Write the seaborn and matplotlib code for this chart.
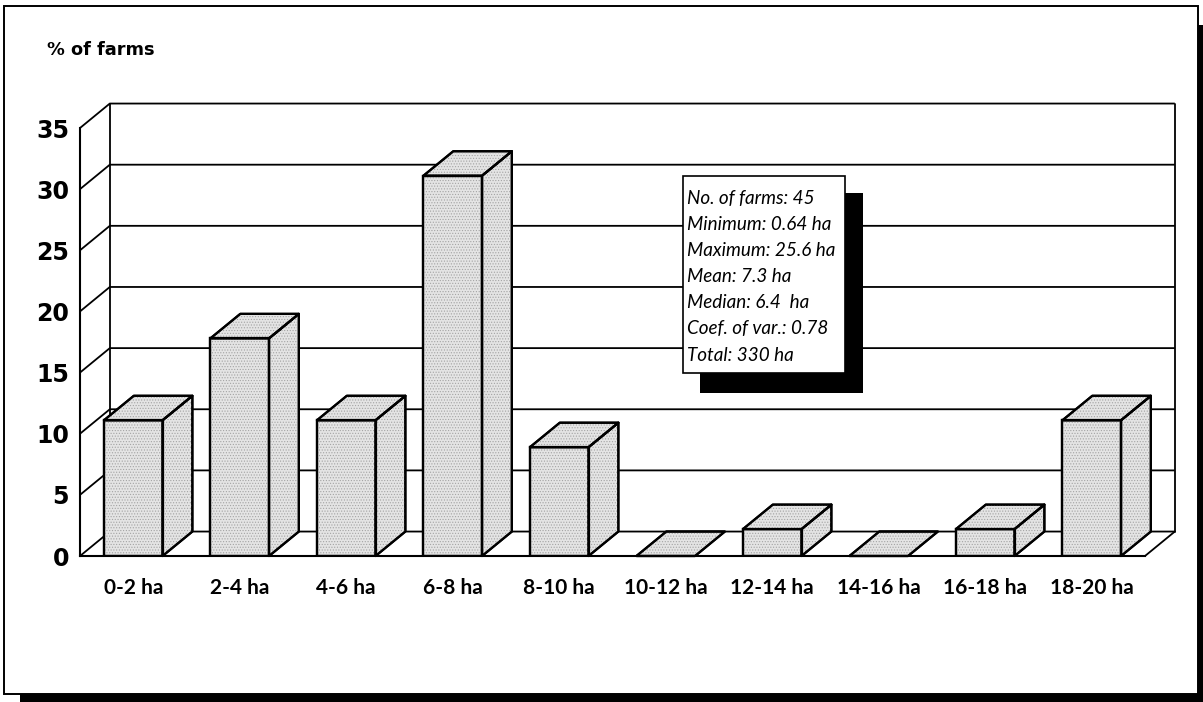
import numpy as np
import pandas as pd
import matplotlib
matplotlib.use("Agg")
import matplotlib.pyplot as plt
import seaborn as sns
from matplotlib.patches import Polygon, Rectangle

# ---- data -------------------------------------------------------------
size_classes = ["0-2 ha", "2-4 ha", "4-6 ha", "6-8 ha", "8-10 ha",
                "10-12 ha", "12-14 ha", "14-16 ha", "16-18 ha", "18-20 ha"]
pct_farms = [11.1, 17.8, 11.1, 31.1, 8.9, 0.0, 2.2, 0.0, 2.2, 11.1]
y_ticks = [0, 5, 10, 15, 20, 25, 30, 35]
summary_lines = ["No. of farms: 45", "Minimum: 0.64 ha", "Maximum: 25.6 ha",
                 "Mean: 7.3 ha", "Median: 6.4  ha", "Coef. of var.: 0.78",
                 "Total: 330 ha"]

# ---- style ------------------------------------------------------------
sns.set_theme(style="white")
plt.rcParams["font.family"] = ["DejaVu Sans"]
plt.rcParams["text.color"] = "black"
plt.rcParams["hatch.linewidth"] = 0.5

W, H = 1203, 702
FACE = "#e4e4e4"
DOTS = "#a4a4a4"
EDGE_LW = 1.6
GRID_LW = 1.3
DX, DY = 0.28, 2.0          # depth offset of the 3-D box (category units, % units)

fig = plt.figure(figsize=(W / 100, H / 100), dpi=100)


def px_rect(x0, y0, x1, y1, **kw):
    """Rectangle given in pixel coordinates measured from the top-left corner."""
    return Rectangle((x0 / W, 1 - y1 / H), (x1 - x0) / W, (y1 - y0) / H,
                     transform=fig.transFigure, **kw)


# outer frame with drop shadow
fig.patches.append(px_rect(20, 25, W, H, facecolor="black", edgecolor="none", zorder=-3))
fig.patches.append(px_rect(4, 6, 1198, 694, facecolor="white", edgecolor="black",
                           linewidth=1.4, zorder=-2))

ax = fig.add_axes([80 / W, (H - 556) / H, (1145 - 80) / W, (556 - 128) / H])
ax.set_zorder(1)
ax.patch.set_visible(False)

x_lo, x_hi = -0.5, len(size_classes) - 0.5
y_top = y_ticks[-1]

# back wall, side wall and floor lines
for v in y_ticks:
    ax.plot([x_lo, x_lo + DX, x_hi + DX], [v, v + DY, v + DY], color="black",
            lw=GRID_LW, clip_on=False, zorder=0.5, solid_capstyle="butt")
ax.plot([x_lo + DX, x_lo + DX], [DY, y_top + DY], color="black", lw=GRID_LW,
        clip_on=False, zorder=0.5)
ax.plot([x_hi + DX, x_hi + DX], [DY, y_top + DY], color="black", lw=GRID_LW,
        clip_on=False, zorder=0.5)
ax.plot([x_hi, x_hi + DX], [0, DY], color="black", lw=GRID_LW,
        clip_on=False, zorder=0.5)

# front faces of the columns
df = pd.DataFrame({"size_class": size_classes, "pct": pct_farms})
sns.barplot(data=df, x="size_class", y="pct", width=0.55, color=FACE,
            saturation=1, edgecolor="black", linewidth=EDGE_LW, ax=ax, zorder=2)


def stipple(poly_xy):
    ax.add_patch(Polygon(poly_xy, closed=True, facecolor="none", edgecolor=DOTS,
                         linewidth=0, hatch="......", clip_on=False, zorder=2.05))


def face(poly_xy):
    ax.add_patch(Polygon(poly_xy, closed=True, facecolor=FACE, edgecolor="black",
                         linewidth=EDGE_LW, joinstyle="round", clip_on=False, zorder=2))
    stipple(poly_xy)
    ax.add_patch(Polygon(poly_xy, closed=True, fill=False, edgecolor="black",
                         linewidth=EDGE_LW, joinstyle="round", clip_on=False, zorder=2.1))


# side and top faces built from each bar's own geometry
for bar in list(ax.patches):
    x, w, h = bar.get_x(), bar.get_width(), bar.get_height()
    stipple([(x, 0), (x + w, 0), (x + w, h), (x, h)])
    ax.add_patch(Rectangle((x, 0), w, h, fill=False, edgecolor="black",
                           linewidth=EDGE_LW, zorder=2.1))
    if h > 0:
        face([(x + w, 0), (x + w + DX, DY), (x + w + DX, h + DY), (x + w, h)])
    face([(x, h), (x + w, h), (x + w + DX, h + DY), (x + DX, h + DY)])

# axes, ticks and labels
ax.set_xlim(x_lo, x_hi)
ax.set_ylim(0, y_top)
for s in ("top", "right"):
    ax.spines[s].set_visible(False)
for s in ("left", "bottom"):
    ax.spines[s].set_color("black")
    ax.spines[s].set_linewidth(1.5)
    ax.spines[s].set_zorder(2.5)

ax.set_yticks(y_ticks)
ax.set_yticklabels([str(v) for v in y_ticks], fontsize=17, fontweight="bold",
                   family="DejaVu Sans", color="black")
ax.tick_params(axis="y", direction="out", length=5, width=1.3, pad=3,
               colors="black")

ax.set_xticks(range(len(size_classes)))
ax.set_xticklabels(size_classes, fontsize=15, fontweight="bold", family="Lato",
                   color="black")
ax.set_xticks(np.arange(x_lo, x_hi + 0.01, 1), minor=True)
ax.tick_params(axis="x", which="major", length=0, pad=16, colors="black")
ax.tick_params(axis="x", which="minor", direction="out", length=7, width=1.3,
               colors="black")
ax.set_xlabel("")
ax.set_ylabel("")

fig.text(47 / W, 1 - 55 / H, "% of farms", fontsize=12.8, fontweight="bold",
         family="DejaVu Sans", color="black", va="baseline", ha="left")

# summary statistics box with a solid shadow
fig.patches.append(px_rect(700, 193, 863, 393, facecolor="black", edgecolor="none", zorder=5))
fig.patches.append(px_rect(683, 176, 845, 373, facecolor="white", edgecolor="black",
                           linewidth=1.2, zorder=6))
for i, line in enumerate(summary_lines):
    fig.text(687 / W, 1 - (198 + i * 26.2) / H, line, fontsize=13.6, style="italic",
             family="Lato", color="black", va="center", ha="left", zorder=7)

fig.savefig("out.png", dpi=100)
